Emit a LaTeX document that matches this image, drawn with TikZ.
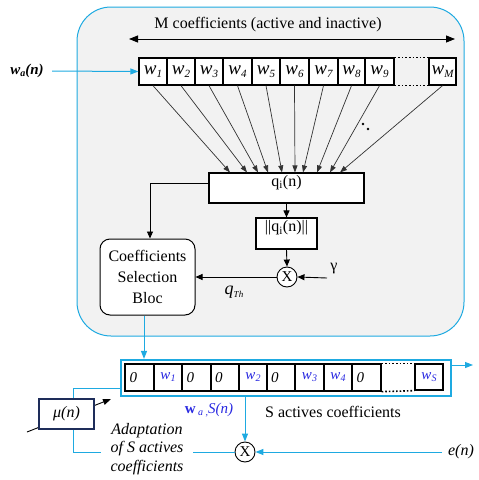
\documentclass[tikz,border=0pt]{standalone}
\usepackage{fontspec}
\setmainfont{Liberation Serif}
\newfontfamily\tnr{Liberation Serif}
\usetikzlibrary{arrows.meta,calc}
\definecolor{skyb}{RGB}{30,170,225}
\definecolor{wblue}{RGB}{40,40,225}
\definecolor{panel}{RGB}{242,242,242}
\definecolor{navy}{RGB}{30,45,90}
\newcommand{\wtop}[1]{{\tnr\fontsize{19}{19}\selectfont\itshape w\raisebox{-0.3ex}{\fontsize{11}{11}\selectfont #1}}}
\newcommand{\wbot}[1]{{\tnr\color{wblue}\fontsize{15}{15}\selectfont\itshape w\raisebox{-0.3ex}{\fontsize{10}{10}\selectfont #1}}}
\newcommand{\zro}{\makebox[20pt][l]{\tnr\fontsize{15}{15}\selectfont\itshape 0}}
\begin{document}
\begin{tikzpicture}[x=1pt,y=-1pt,font=\tnr\fontsize{16}{19}\selectfont,
  cell/.style={draw=black,line width=1.3pt,fill=white,inner sep=0pt,anchor=center},
  fan/.style={draw=black!80,line width=0.7pt,-{Triangle[length=7pt,width=5pt]}},
  blk/.style={draw=black,line width=0.9pt,-{Triangle[length=7pt,width=6pt]}},
  bl/.style={draw=skyb,line width=1pt},
  blarrow/.style={bl,-{Triangle[length=8pt,width=6pt]}},
  mult/.style={circle,draw=black,line width=0.9pt,fill=white,minimum size=20pt,inner sep=0pt,font=\tnr\fontsize{15}{15}\selectfont},
  box/.style={draw=black,line width=1.1pt,fill=white,inner sep=0pt,text height=8pt,text depth=12pt}]
\useasboundingbox (0,0) rectangle (479,480);
% panel
\draw[draw=skyb,fill=panel,line width=1pt,rounded corners=34pt] (77,7) rectangle (464,336);
% M coefficients
\node (mlab) at (268,25) {M coefficients (active and inactive)};
\coordinate (mL) at (129,39);
\coordinate (mR) at (455,39);
\draw[line width=0.8pt,{Triangle[length=9pt,width=7pt]}-{Triangle[length=9pt,width=7pt]}] (mL) -- (mR);
% top cells
\foreach \n/\l/\r in {1/139/167,2/167/195,3/195/223,4/223/252,5/252/280,6/280/309,7/309/338,8/338/365,9/365/394,M/429/456}
  \node[cell,minimum width={(\r-\l)*1pt},minimum height=27pt] (c\n) at ({(\l+\r)/2},71.5) {\wtop{\n}};
\draw[dotted,line width=1.6pt] (c9.north east) -- (cM.north west);
\draw[dotted,line width=1.6pt] (c9.south east) -- (cM.south west);
% input
\node (wa) at (27,71) {\fontsize{15}{15}\selectfont\bfseries\itshape w\raisebox{-0.3ex}{\fontsize{10}{10}\selectfont a}(n)};
\draw[blarrow,shorten <=5pt] (wa.east) -- (c1.west);
% q box
\node[box,minimum width=155pt,minimum height=30pt] (q) at (286.5,188) {q\textsubscript{i}(n)};
\foreach \n/\dx in {1/-56.5,2/-39.5,3/-28.5,4/-18.5,5/-4.5,6/8.5,7/16.5,8/30.5,9/43.5,M/53.5}
  \draw[fan] (c\n.south) -- ([xshift=\dx pt]q.north);
\fill (363,124) circle (1.4pt);
\fill (368,129) circle (1.4pt);
% norm box
\node[box,minimum width=61pt,minimum height=31pt] (nq) at (286.5,233.5) {||q\textsubscript{i}(n)||};
\draw[blk] (q.south) -- (nq.north);
\node[mult] (x1) at (287,277) {X};
\draw[blk] (nq.south) -- (x1.north);
\node (g) at (334,269) {γ};
\coordinate (gs) at (327,278);
\draw[blk] (gs) -- (x1.east);
% coefficient selection bloc
\node[draw=black,line width=1pt,fill=white,rounded corners=10pt,minimum width=95pt,minimum height=76pt,align=center,font=\tnr\fontsize{16}{21}\selectfont] (cb) at (147.5,277) {Coefficients\\Selection\\Bloc};
\draw[blk] ([yshift=5pt]q.west) -| ([xshift=2.5pt]cb.north);
\draw[blk] (x1.west) -- (x1.west -| cb.east);
\node (qth) at (234,292) {\fontsize{18}{18}\selectfont\itshape q\raisebox{-0.4ex}{\fontsize{9}{9}\selectfont Th}};
% S frame
\node[draw=skyb,line width=2.2pt,fill=white,minimum width=330pt,minimum height=36pt,inner sep=0pt] (sf) at (286,378) {};
\draw[blarrow] ([xshift=-3.5pt]cb.south) -- ([xshift=-3.5pt]cb.south |- sf.north);
\foreach \n/\l/\r/\t in {1/125/154/{\zro},2/154/182/{\wbot{1}},3/182/211/{\zro},4/211/239/{\zro},5/239/267/{\wbot{2}},6/267/295/{\zro},7/295/324/{\wbot{3}},8/324/352/{\wbot{4}},9/352/381/{\zro}}
  \node[cell,minimum width={(\r-\l)*1pt},minimum height=27pt] (s\n) at ({(\l+\r)/2},377.5) {\t};
\node[cell,minimum width=28pt,minimum height=26pt] (sS) at (429,377) {\wbot{S}};
\draw[dotted,line width=1.6pt] (s9.north east) -- (sS.north west);
\draw[dotted,line width=1.6pt] (s9.south east) -- (sS.south west);
\coordinate (out) at (473,365);
\draw[blarrow] ([yshift=13pt]sf.east) -- (out);
% bottom multiplier
\node[mult] (x2) at (245,452) {X};
\draw[blarrow] (x2.north |- sf.south) -- (x2.north);
\node (en) at (461,452) {\itshape e(n)};
\coordinate (es) at (442,452);
\draw[blarrow] (es) -- (x2.east);
\node[text=wblue] (was) at (209,410) {\fontsize{15}{15}\selectfont\textbf{w}\,\raisebox{-0.4ex}{\fontsize{10}{10}\selectfont\itshape a ,}\textit{S(n)}};
\node (sact) at (333,412) {S actives coefficients};
% adaptation loop
\coordinate (lb) at (73,452);
\coordinate (lt) at (73,388);
\draw[bl] (x2.west) -- (lb) -- (lt) -- ([yshift=-10pt]sf.west);
\coordinate (d1) at (27,432);
\coordinate (d2) at (111,399);
\draw[line width=0.9pt,-{Triangle[length=8pt,width=6pt]}] (d1) -- (d2);
\node[draw=navy,line width=1.5pt,fill=white,minimum width=55pt,minimum height=30pt] (mu) at (66.5,414) {\itshape μ(n)};
\node[fill=white,align=center,inner xsep=10pt,inner ysep=1pt,font=\tnr\fontsize{16}{18.5}\selectfont\itshape] (ad) at (147,449) {Adaptation\\of S actives\\coefficients};
\end{tikzpicture}
\end{document}
